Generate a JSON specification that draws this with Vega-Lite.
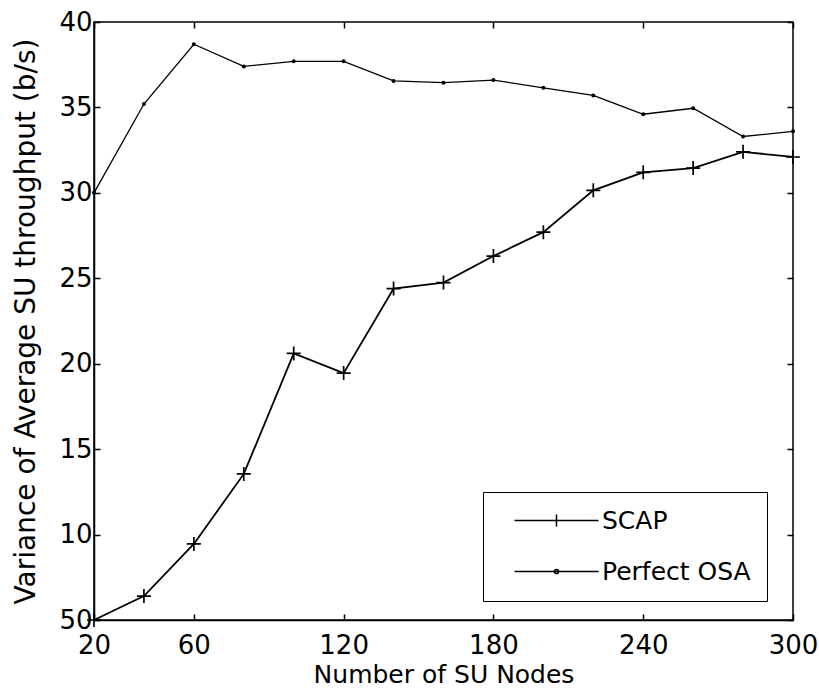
{
  "$schema": "https://vega.github.io/schema/vega-lite/v6.json",
  "width": 699,
  "height": 598,
  "autosize": {"type": "none"},
  "padding": {"left": 94, "top": 22, "right": 26, "bottom": 72},
  "background": "white",
  "config": {
    "view": {"stroke": "black", "strokeWidth": 1.5},
    "font": "DejaVu Sans",
    "axis": {
      "grid": false,
      "domainColor": "black",
      "domainWidth": 1.5,
      "tickColor": "black",
      "tickWidth": 1.5,
      "tickSize": -6,
      "labelFlush": false,
      "labelOverlap": false,
      "labelColor": "black",
      "labelFont": "DejaVu Sans",
      "labelFontSize": 26,
      "titleColor": "black",
      "titleFont": "DejaVu Sans",
      "titleFontSize": 26,
      "titleFontWeight": "normal"
    }
  },
  "data": {
    "values": [
      {"x": 20, "series": "SCAP", "value": 5.0},
      {"x": 40, "series": "SCAP", "value": 6.4},
      {"x": 60, "series": "SCAP", "value": 9.45},
      {"x": 80, "series": "SCAP", "value": 13.55},
      {"x": 100, "series": "SCAP", "value": 20.6},
      {"x": 120, "series": "SCAP", "value": 19.45},
      {"x": 140, "series": "SCAP", "value": 24.4},
      {"x": 160, "series": "SCAP", "value": 24.75},
      {"x": 180, "series": "SCAP", "value": 26.3},
      {"x": 200, "series": "SCAP", "value": 27.7},
      {"x": 220, "series": "SCAP", "value": 30.15},
      {"x": 240, "series": "SCAP", "value": 31.2},
      {"x": 260, "series": "SCAP", "value": 31.45},
      {"x": 280, "series": "SCAP", "value": 32.4},
      {"x": 300, "series": "SCAP", "value": 32.1},
      {"x": 20, "series": "Perfect OSA", "value": 30.0},
      {"x": 40, "series": "Perfect OSA", "value": 35.2},
      {"x": 60, "series": "Perfect OSA", "value": 38.7},
      {"x": 80, "series": "Perfect OSA", "value": 37.4},
      {"x": 100, "series": "Perfect OSA", "value": 37.7},
      {"x": 120, "series": "Perfect OSA", "value": 37.7},
      {"x": 140, "series": "Perfect OSA", "value": 36.55},
      {"x": 160, "series": "Perfect OSA", "value": 36.45},
      {"x": 180, "series": "Perfect OSA", "value": 36.6},
      {"x": 200, "series": "Perfect OSA", "value": 36.15},
      {"x": 220, "series": "Perfect OSA", "value": 35.7},
      {"x": 240, "series": "Perfect OSA", "value": 34.6},
      {"x": 260, "series": "Perfect OSA", "value": 34.95},
      {"x": 280, "series": "Perfect OSA", "value": 33.3},
      {"x": 300, "series": "Perfect OSA", "value": 33.6}
    ]
  },
  "resolve": {"axis": {"x": "independent", "y": "independent"}},
  "layer": [
    {
      "transform": [{"filter": "datum.series == 'SCAP'"}],
      "mark": {"type": "line", "color": "black", "strokeWidth": 1.8},
      "encoding": {
        "x": {"field": "x", "type": "quantitative", "scale": {"domain": [20, 300], "nice": false, "zero": false},
              "axis": {"values": [20, 60, 120, 180, 240, 300], "title": "Number of SU Nodes", "titleFontSize": 25, "labelPadding": 18, "titlePadding": 4}},
        "y": {"field": "value", "type": "quantitative", "scale": {"domain": [5, 40], "nice": false, "zero": false},
              "axis": {"values": [5, 10, 15, 20, 25, 30, 35, 40], "title": "Variance of Average SU throughput (b/s)", "titleFontSize": 28, "labelPadding": 8, "titlePadding": 18,
                       "labelExpr": "datum.value == 5 ? '50' : datum.label"}}
      }
    },
    {
      "transform": [{"filter": "datum.series == 'Perfect OSA'"}],
      "mark": {"type": "line", "color": "black", "strokeWidth": 1.3},
      "encoding": {
        "x": {"field": "x", "type": "quantitative", "axis": null},
        "y": {"field": "value", "type": "quantitative", "axis": null}
      }
    },
    {
      "transform": [{"filter": "datum.series == 'SCAP'"}],
      "mark": {"type": "point", "shape": "M-1,0H1M0,-1V1", "size": 196, "stroke": "black", "strokeWidth": 1.7, "filled": false, "opacity": 1},
      "encoding": {
        "x": {"field": "x", "type": "quantitative", "axis": null},
        "y": {"field": "value", "type": "quantitative", "axis": null}
      }
    },
    {
      "transform": [{"filter": "datum.series == 'Perfect OSA'"}],
      "mark": {"type": "point", "shape": "circle", "size": 16, "filled": true, "color": "black", "opacity": 1},
      "encoding": {
        "x": {"field": "x", "type": "quantitative", "axis": null},
        "y": {"field": "value", "type": "quantitative", "axis": null}
      }
    },
    {
      "transform": [{"filter": "datum.x < 0"}],
      "mark": {"type": "point", "filled": false, "color": "black", "strokeWidth": 1.5, "opacity": 1},
      "encoding": {
        "x": {"field": "x", "type": "quantitative",
              "axis": {"orient": "top", "values": [20, 60, 120, 180, 240, 300], "labels": false, "title": null, "domain": false}},
        "y": {"field": "value", "type": "quantitative",
              "axis": {"orient": "right", "values": [5, 10, 15, 20, 25, 30, 35, 40], "labels": false, "title": null, "domain": false}},
        "shape": {
          "field": "series", "type": "nominal",
          "scale": {"domain": ["SCAP", "Perfect OSA"],
                    "range": ["M-7,0H7M-1,0H1M0,-1V1", "M-7,0H7M-0.35,0A0.35,0.35,0,1,0,0.35,0A0.35,0.35,0,1,0,-0.35,0"]},
          "legend": {
            "orient": "none", "legendX": 389, "legendY": 470, "title": null,
            "strokeColor": "black", "fillColor": "white", "padding": 16,
            "labelFontSize": 25, "labelFont": "DejaVu Sans", "labelColor": "black",
            "symbolSize": 144, "symbolOffset": 45, "labelOffset": 33, "rowPadding": 25,
            "symbolStrokeWidth": 1.5, "symbolStrokeColor": "black", "symbolFillColor": "black",
            "cornerRadius": 0,
            "encode": {"symbols": {"update": {"stroke": {"value": "black"}, "fill": {"value": "black"}, "strokeWidth": {"value": 1.5}, "opacity": {"value": 1}}}}
          }
        }
      }
    }
  ]
}
